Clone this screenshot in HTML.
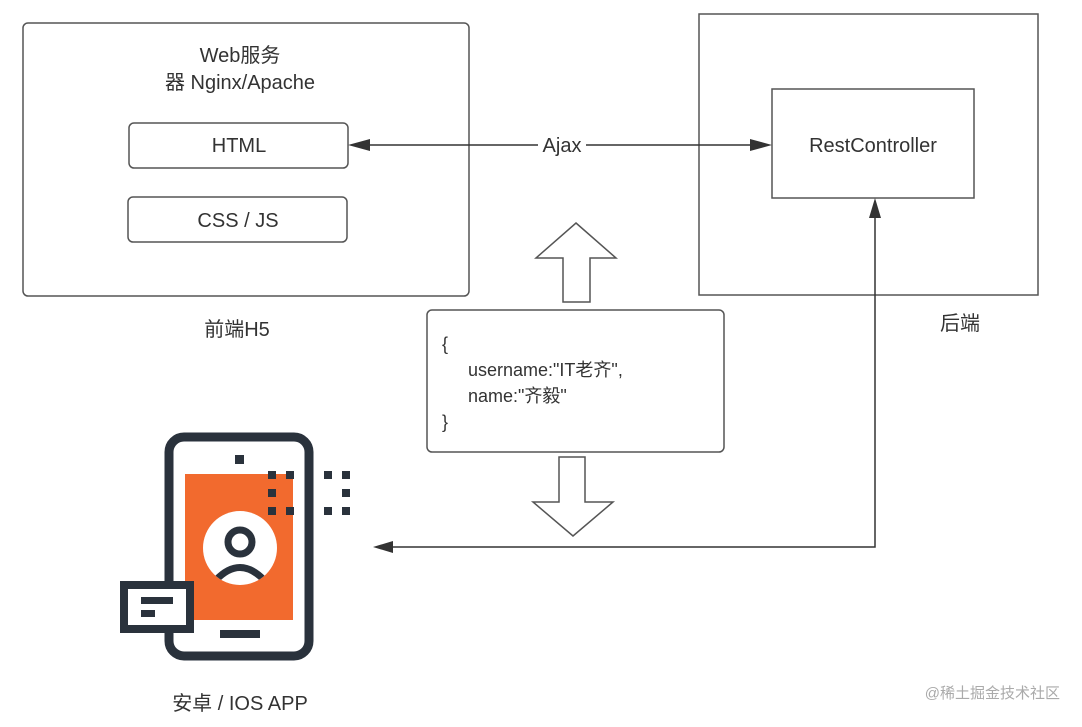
<!DOCTYPE html>
<html><head><meta charset="utf-8"><style>
body{margin:0;background:#fff;width:1082px;height:722px;overflow:hidden}
svg text{font-family:"Liberation Sans","Noto Sans CJK SC",sans-serif;fill:#333}
</style></head><body>
<svg width="1082" height="722" viewBox="0 0 1082 722" xmlns="http://www.w3.org/2000/svg">
<defs><clipPath id="c"><circle cx="240" cy="548" r="37"/></clipPath></defs>
<g fill="none" stroke="#555" stroke-width="1.5">
<rect x="23" y="23" width="446" height="273" rx="5"/>
<rect x="129" y="123" width="219" height="45" rx="5"/>
<rect x="128" y="197" width="219" height="45" rx="5"/>
<rect x="699" y="14" width="339" height="281"/>
<rect x="772" y="89" width="202" height="109"/>
<rect x="427" y="310" width="297" height="142" rx="5"/>
<polygon points="576,223 616,258 590,258 590,302 563,302 563,258 536,258" fill="#fff"/>
<polygon points="559,457 585,457 585,502 613,502 573,536 533,502 559,502" fill="#fff"/>
</g>
<g stroke="#333" stroke-width="1.5" fill="none">
<line x1="365" y1="145" x2="538" y2="145"/>
<line x1="586" y1="145" x2="756" y2="145"/>
<polyline points="875,215 875,547 390,547"/>
</g>
<g fill="#333">
<polygon points="348,145 370,139 370,151"/>
<polygon points="772,145 750,139 750,151"/>
<polygon points="875,198 869,218 881,218"/>
<polygon points="373,547 393,541 393,553"/>
</g>
<g font-size="20" text-anchor="middle">
<text x="240" y="62">Web服务</text>
<text x="240" y="89">器 Nginx/Apache</text>
<text x="239" y="152">HTML</text>
<text x="238" y="227">CSS / JS</text>
<text x="562" y="152">Ajax</text>
<text x="873" y="152">RestController</text>
<text x="237" y="336">前端H5</text>
<text x="960" y="330">后端</text>
<text x="240" y="710">安卓 / IOS APP</text>
</g>
<g font-size="18">
<text x="442" y="350">{</text>
<text x="468" y="376">username:"IT老齐",</text>
<text x="468" y="402">name:"齐毅"</text>
<text x="442" y="428">}</text>
</g>
<text x="1060" y="698" font-size="15" text-anchor="end" style="fill:#aaa">@稀土掘金技术社区</text>
<rect x="169" y="437" width="140" height="219" rx="15" fill="none" stroke="#2a323c" stroke-width="9"/>
<rect x="185" y="474" width="108" height="146" fill="#f26a2e"/>
<circle cx="240" cy="548" r="37" fill="#fff"/>
<circle cx="240" cy="542" r="12" fill="none" stroke="#2a323c" stroke-width="7"/>
<g clip-path="url(#c)"><path d="M216 590 L216 580 Q240 555 264 580 L264 590" fill="none" stroke="#2a323c" stroke-width="7"/></g>
<rect x="235" y="455" width="9" height="9" fill="#2a323c"/>
<rect x="220" y="630" width="40" height="8" fill="#2a323c"/>
<g fill="#2a323c">
<rect x="268" y="471" width="8" height="8"/><rect x="286" y="471" width="8" height="8"/>
<rect x="268" y="489" width="8" height="8"/>
<rect x="268" y="507" width="8" height="8"/><rect x="286" y="507" width="8" height="8"/>
<rect x="324" y="471" width="8" height="8"/><rect x="342" y="471" width="8" height="8"/>
<rect x="342" y="489" width="8" height="8"/>
<rect x="324" y="507" width="8" height="8"/><rect x="342" y="507" width="8" height="8"/>
</g>
<rect x="124" y="585" width="66" height="44" fill="#fff" stroke="#2a323c" stroke-width="8"/>
<rect x="141" y="597" width="32" height="7" fill="#2a323c"/>
<rect x="141" y="610" width="14" height="7" fill="#2a323c"/>
</svg>
</body></html>
